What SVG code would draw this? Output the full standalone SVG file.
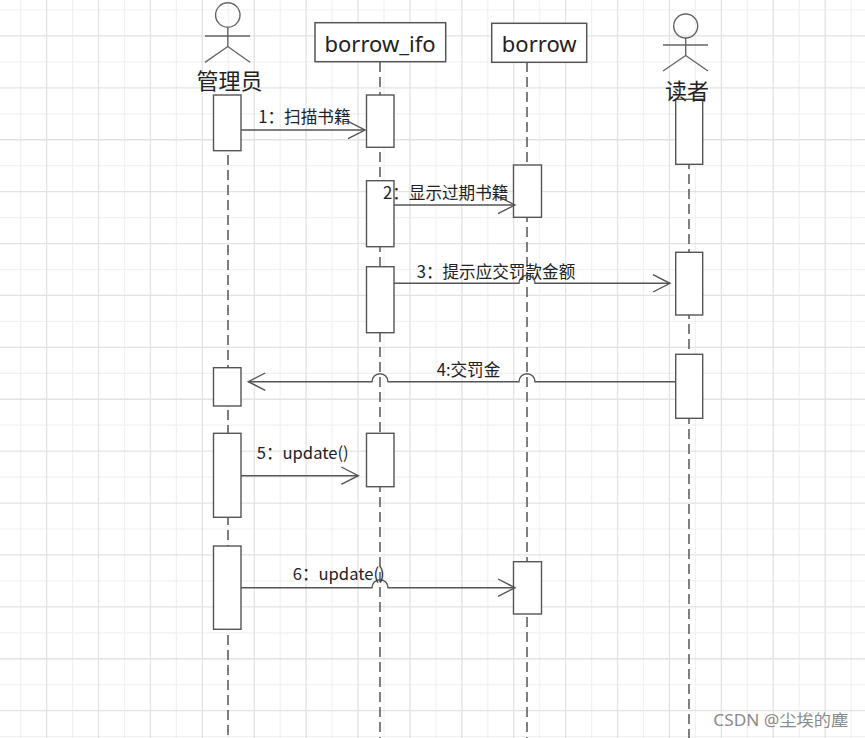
<svg xmlns="http://www.w3.org/2000/svg" width="865" height="738" viewBox="0 0 865 738">
<style>
.gl{stroke:#f1f1f1;stroke-width:1.2;fill:none}
.gd{stroke:#e3e3e3;stroke-width:1.3;fill:none}
.life{stroke:#555;stroke-width:1.5;stroke-dasharray:10 5;fill:none}
.box{fill:#fff;stroke:#555;stroke-width:1.5}
.act{fill:#fff;stroke:#555;stroke-width:1.4}
.actor{fill:none;stroke:#666;stroke-width:1.4}
.msg{fill:none;stroke:#555;stroke-width:1.4}
.t{font-family:"Noto Sans","Noto Sans CJK SC",sans-serif;fill:#222}
.lbl{font-family:"Noto Sans CJK SC","Noto Sans",sans-serif;font-size:16.6px;fill:#222}
.big{font-size:22px}
</style>
<defs>
<marker id="arr" markerUnits="userSpaceOnUse" markerWidth="22" markerHeight="22" viewBox="-19 -11 22 22" refX="0" refY="0" orient="auto" overflow="visible">
<path d="M-17,-8.7 L0,0 L-17,8.7" fill="none" stroke="#555" stroke-width="1.4"/>
</marker>
</defs>
<rect width="865" height="738" fill="#fff"/>
<g id="grid">
<path class="gl" d="M20.7,0V738M72.6,0V738M124.5,0V738M176.4,0V738M228.3,0V738M280.2,0V738M332.1,0V738M384,0V738M435.9,0V738M487.8,0V738M539.7,0V738M591.6,0V738M643.5,0V738M695.4,0V738M747.3,0V738M799.2,0V738M851.1,0V738M0,10H865M0,61.9H865M0,113.8H865M0,165.7H865M0,217.6H865M0,269.5H865M0,321.4H865M0,373.3H865M0,425.2H865M0,477.1H865M0,529H865M0,580.9H865M0,632.8H865M0,684.7H865M0,736.6H865"/>
<path class="gd" d="M46.65,0V738M98.55,0V738M150.45,0V738M202.35,0V738M254.25,0V738M306.15,0V738M358.05,0V738M409.95,0V738M461.85,0V738M513.75,0V738M565.65,0V738M617.55,0V738M669.45,0V738M721.35,0V738M773.25,0V738M825.15,0V738M0,35.95H865M0,87.85H865M0,139.75H865M0,191.65H865M0,243.55H865M0,295.45H865M0,347.35H865M0,399.25H865M0,451.15H865M0,503.05H865M0,554.95H865M0,606.85H865M0,658.75H865M0,710.65H865"/>
</g>
<g id="lifelines">
<path class="life" d="M228,95V738"/>
<path class="life" d="M380,62V738"/>
<path class="life" d="M527,62V738"/>
<path class="life" d="M689,99V738"/>
</g>
<g id="admin">
<circle class="actor" cx="227.8" cy="15" r="12.2"/>
<path class="actor" d="M227.8,27.2V46.5M205,36H250M205,62.3L227.8,46.5L250,62.3"/>
<text class="t big" x="229.5" y="89" text-anchor="middle">管理员</text>
</g>
<g id="borrow_ifo">
<rect class="box" x="315" y="22.7" width="130.7" height="39"/>
<text class="t big" x="380" y="51.5" text-anchor="middle">borrow_ifo</text>
</g>
<g id="borrow">
<rect class="box" x="491.7" y="23.3" width="95" height="39"/>
<text class="t big" x="539.2" y="51.5" text-anchor="middle">borrow</text>
</g>
<g id="reader">
<circle class="actor" cx="685.7" cy="26" r="12"/>
<path class="actor" d="M685.7,38V55.5M663,45H708M663,71L685.7,55.5L708,71"/>
</g>
<g id="activations">
<rect class="act" x="213.5" y="95" width="27.5" height="55.7"/>
<rect class="act" x="213.5" y="367.7" width="27.5" height="38.3"/>
<rect class="act" x="213.5" y="433.3" width="27.5" height="84"/>
<rect class="act" x="213.5" y="546" width="27.5" height="83.3"/>
<rect class="act" x="366.5" y="95" width="27.5" height="52.3"/>
<rect class="act" x="366.5" y="180.7" width="27.5" height="66"/>
<rect class="act" x="366.5" y="266.7" width="27.5" height="66"/>
<rect class="act" x="366.5" y="433.3" width="27.5" height="53.4"/>
<rect class="act" x="513.5" y="165" width="28" height="52.3"/>
<rect class="act" x="513.5" y="561.7" width="28" height="52.3"/>
<rect class="act" x="675.7" y="99.3" width="27" height="65"/>
<rect class="act" x="675.7" y="252.3" width="27" height="62.7"/>
<rect class="act" x="675.7" y="354.3" width="27" height="64"/>
</g>
<text class="t big" x="687" y="99" text-anchor="middle">读者</text>
<g id="connectors">
<path class="msg" d="M241,130H365" marker-end="url(#arr)"/>
<path class="msg" d="M394,205H515" marker-end="url(#arr)"/>
<path class="msg" d="M394,283.3H519a8,8 0 0 1 16,0H670" marker-end="url(#arr)"/>
<path class="msg" d="M675.7,381.7H535a8,8 0 0 0 -16,0H388a8,8 0 0 0 -16,0H248.3" marker-end="url(#arr)"/>
<path class="msg" d="M241,475.7H358.3" marker-end="url(#arr)"/>
<path class="msg" d="M241,587.7H372a8,8 0 0 1 16,0H515" marker-end="url(#arr)"/>
</g>
<g id="labels">
<text class="lbl" x="258.3" y="122.5">1：扫描书籍</text>
<text class="lbl" x="383" y="199">2：显示过期书籍</text>
<text class="lbl" x="416.7" y="277.5">3：提示应交罚款金额</text>
<text class="lbl" x="436.7" y="375.5">4:交罚金</text>
<text class="lbl" x="256.7" y="459">5：update()</text>
<text class="lbl" x="292.7" y="579.5">6：update()</text>
</g>
<text x="713.3" y="726" font-family="'Noto Sans','Noto Sans CJK SC',sans-serif" font-size="16" fill="#8a8a8a" textLength="135" lengthAdjust="spacingAndGlyphs">CSDN @尘埃的塵</text>
</svg>
